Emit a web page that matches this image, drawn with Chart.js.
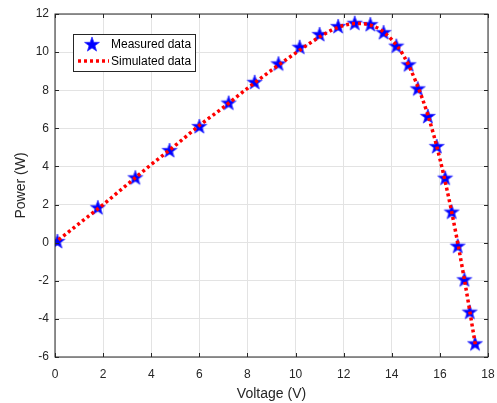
<!DOCTYPE html>
<html>
<head>
<meta charset="utf-8">
<script src="https://cdn.jsdelivr.net/npm/chart.js@4"></script>
<style>
  html, body { margin: 0; padding: 0; background: #fff; }
  canvas { display: block; }
</style>
</head>
<body>
<canvas id="myChart" width="497" height="403"></canvas>
<script>
// measured points (voltage V, power W)
const measuredV = [0.1, 1.78, 3.34, 4.76, 6.0, 7.22, 8.3, 9.29, 10.17, 11.0, 11.77, 12.46, 13.11, 13.66, 14.19, 14.7, 15.08, 15.5, 15.87, 16.22, 16.49, 16.74, 17.02, 17.24, 17.46];
const measuredP = [0.09, 1.86, 3.43, 4.86, 6.12, 7.35, 8.44, 9.41, 10.28, 10.95, 11.37, 11.54, 11.47, 11.05, 10.34, 9.36, 8.1, 6.65, 5.07, 3.41, 1.63, -0.16, -1.92, -3.62, -5.28];
// simulated curve
const simV = [0.15, 1, 2, 3, 4, 5, 6, 7, 8, 9, 10, 11, 11.5, 12, 12.5, 13, 13.5, 14, 14.5, 15, 15.5, 16, 16.5, 17, 17.48];
const simP = [0.15, 1.0, 2.0, 3.05, 4.1, 5.1, 6.15, 7.1, 8.1, 9.05, 9.95, 10.8, 11.15, 11.4, 11.5, 11.45, 11.2, 10.65, 9.8, 8.45, 6.7, 4.4, 1.55, -1.8, -5.4];
const labels = ['Measured data', 'Simulated data'];
const xTicks = [0, 2, 4, 6, 8, 10, 12, 14, 16, 18];
const yTicks = [-6, -4, -2, 0, 2, 4, 6, 8, 10, 12];

const axisColor = '#262626';
const fontFam = '"Liberation Sans", Arial, Helvetica, sans-serif';

// 파란 별 마커 (canvas 이미지)
function makeStar(R) {
  const c = document.createElement('canvas');
  const s = Math.ceil(R * 2 + 4);
  c.width = s; c.height = s;
  const g = c.getContext('2d');
  const cx = s / 2, cy = s / 2 + R * 0.1, r = R * 0.4;
  g.beginPath();
  for (let i = 0; i < 10; i++) {
    const rad = i % 2 === 0 ? R : r;
    const a = -Math.PI / 2 + i * Math.PI / 5;
    const px = cx + rad * Math.cos(a), py = cy + rad * Math.sin(a);
    if (i === 0) g.moveTo(px, py); else g.lineTo(px, py);
  }
  g.closePath();
  g.fillStyle = '#0000ff';
  g.fill();
  g.strokeStyle = '#3030ff';
  g.lineWidth = 0.8;
  g.stroke();
  return c;
}
const star = makeStar(7.8);

// 테두리 + 안쪽 눈금 + 범례
const framePlugin = {
  id: 'frame',
  afterDraw(chart) {
    const ctx = chart.ctx, a = chart.chartArea;
    const xs = chart.scales.x, ys = chart.scales.y;
    ctx.save();
    ctx.strokeStyle = axisColor;
    ctx.lineWidth = 1;
    ctx.strokeRect(Math.round(a.left), Math.round(a.top), Math.round(a.right - a.left), Math.round(a.bottom - a.top));
    ctx.beginPath();
    const tl = 4;
    xTicks.forEach(v => {
      const px = Math.round(xs.getPixelForValue(v)) + 0.5;
      ctx.moveTo(px, a.bottom); ctx.lineTo(px, a.bottom - tl);
      ctx.moveTo(px, a.top); ctx.lineTo(px, a.top + tl);
    });
    yTicks.forEach(v => {
      const py = Math.round(ys.getPixelForValue(v)) + 0.5;
      ctx.moveTo(a.left, py); ctx.lineTo(a.left + tl, py);
      ctx.moveTo(a.right, py); ctx.lineTo(a.right - tl, py);
    });
    ctx.stroke();

    // legend
    const bx = 73.5, by = 34.5, bw = 122, bh = 37;
    ctx.fillStyle = '#fff';
    ctx.fillRect(bx, by, bw, bh);
    ctx.strokeRect(bx, by, bw, bh);
    ctx.drawImage(star, 92 - star.width / 2, 44 - star.height / 2);
    ctx.strokeStyle = '#ff0000';
    ctx.lineWidth = 3.5;
    ctx.setLineDash([3, 3]);
    ctx.beginPath();
    ctx.moveTo(78, 61); ctx.lineTo(109, 61);
    ctx.stroke();
    ctx.setLineDash([]);
    ctx.fillStyle = '#000';
    ctx.font = '12px ' + fontFam;
    ctx.textBaseline = 'middle';
    ctx.textAlign = 'left';
    ctx.fillText(labels[0], 111, 44.5);
    ctx.fillText(labels[1], 111, 61.5);
    ctx.restore();
  }
};

const chartArea = document.getElementById('myChart').getContext('2d');
const myChart = new Chart(chartArea, {
  type: 'scatter',
  data: {
    datasets: [{
      label: labels[1],
      data: simV.map((v, i) => ({ x: v, y: simP[i] })),
      showLine: true,
      borderColor: '#ff0000',
      borderWidth: 3.5,
      borderDash: [3, 3],
      pointRadius: 0,
      cubicInterpolationMode: 'monotone',
      order: 0
    }, {
      label: labels[0],
      data: measuredV.map((v, i) => ({ x: v, y: measuredP[i] })),
      showLine: false,
      pointStyle: star,
      pointRadius: 8,
      order: 1
    }]
  },
  options: {
    responsive: false,
    animation: false,
    devicePixelRatio: 1,
    layout: { padding: { top: 14, right: 7, left: 0, bottom: 0 } },
    plugins: { legend: { display: false }, tooltip: { enabled: false } },
    scales: {
      x: {
        type: 'linear', min: 0, max: 18,
        afterBuildTicks: s => { s.ticks = xTicks.map(v => ({ value: v })); },
        afterFit: s => { s.height = 46; s.paddingLeft = 0; s.paddingRight = 0; },
        ticks: { color: axisColor, font: { family: fontFam, size: 12 }, padding: 10, maxRotation: 0 },
        grid: { color: '#e3e3e3', drawTicks: false },
        border: { display: false },
        title: { display: true, text: 'Voltage (V)', color: axisColor, font: { family: fontFam, size: 14 }, padding: { top: 0.5, bottom: 0.5 } }
      },
      y: {
        type: 'linear', min: -6, max: 12,
        afterBuildTicks: s => { s.ticks = yTicks.map(v => ({ value: v })); },
        afterFit: s => { s.width = 55; s.paddingTop = 0; s.paddingBottom = 0; },
        ticks: { color: axisColor, font: { family: fontFam, size: 12 }, padding: 6 },
        grid: { color: '#e3e3e3', drawTicks: false },
        border: { display: false },
        title: { display: true, text: 'Power (W)', color: axisColor, font: { family: fontFam, size: 14 }, padding: { top: 13, bottom: 13 } }
      }
    }
  },
  plugins: [framePlugin]
});
</script>
</body>
</html>
